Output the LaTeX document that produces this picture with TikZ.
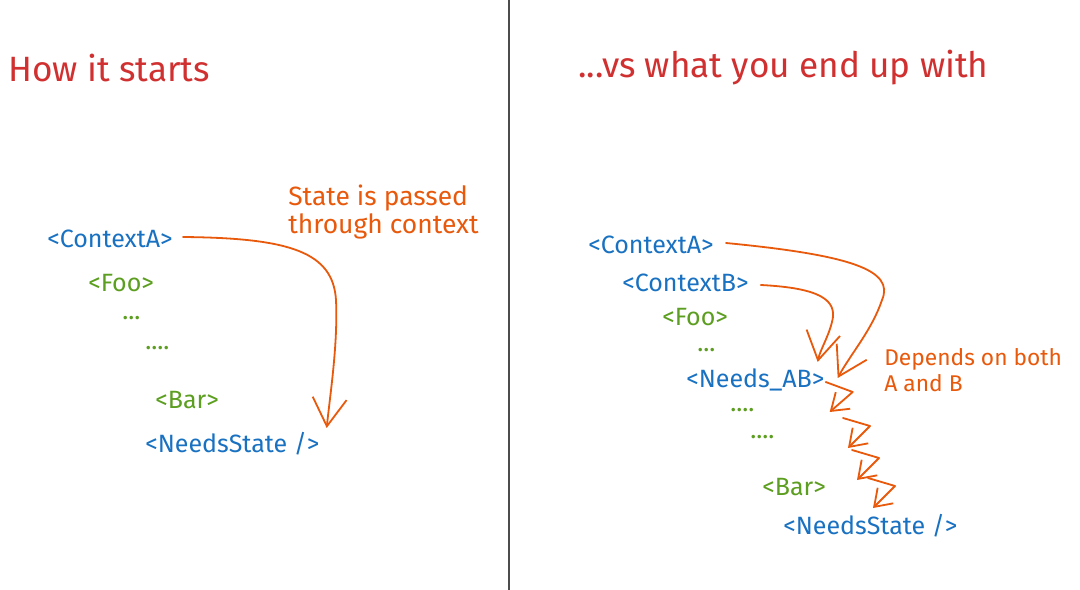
\documentclass[tikz,border=0pt]{standalone}
\usepackage{fontspec}
\setmainfont{Fira Sans}
\usetikzlibrary{positioning, arrows.meta}

\definecolor{titlered}{HTML}{D0302F}
\definecolor{arrorange}{HTML}{E8590C}
\definecolor{tagblue}{HTML}{1971C2}
\definecolor{taggreen}{HTML}{5C9E1F}

\tikzset{
  title/.style={anchor=west, inner sep=0pt, text=titlered, font=\fontsize{25}{30}\selectfont},
  ctxtag/.style={anchor=west, inner sep=0pt, text=tagblue, font=\fontsize{17.8}{21}\selectfont},
  kidtag/.style={anchor=west, inner sep=0pt, text=taggreen, font=\fontsize{17.8}{21}\selectfont},
  note/.style={anchor=west, inner sep=0pt, align=left, text=arrorange, font=\fontsize{18.8}{20.5}\selectfont},
  flow/.style={draw=arrorange, line width=0.45mm, line cap=round, line join=round,
    -{Straight Barb[length=7mm, width=8.5mm]}},
  zig/.style={flow, -{Straight Barb[length=4mm, width=5.5mm]}},
}

\begin{document}
\begin{tikzpicture}[x=0.025cm, y=-0.025cm]
  \useasboundingbox (0,0) rectangle (1080,590);
  \fill[white] (0,0) rectangle (1080,590);
  % divider
  \draw[gray!60!black, line width=0.45mm] (509,0) -- (509,590);

  % left side
  \node[title] (titleL) at (8,68) {How it starts};
  \node[ctxtag] (ctxL) at (47,239) {<ContextA>};
  \node[kidtag] (fooL) at (88,283) {<Foo>};
  \node[kidtag] (dotL1) at (122,318) {...};
  \node[kidtag] (dotL2) at (145,348) {....};
  \node[kidtag] (barL) at (155,400) {<Bar>};
  \node[ctxtag] (nsL) at (145,444) {<NeedsState />};
  \node[note] (passL) at (288,212) {State is passed\\through context};

  \draw[flow] ([shift={(10,-2)}]ctxL.east) .. controls (290,238) and (333,252) .. (336,300)
    .. controls (338,345) and (330,395) .. ([shift={(7,-16)}]nsL.east);

  % right side
  \node[title] (titleR) at (578,68) {...vs what you end up with};
  \node[ctxtag] (ctxA) at (588,245) {<ContextA>};
  \node[ctxtag] (ctxB) at (622,283) {<ContextB>};
  \node[kidtag] (fooR) at (662,317) {<Foo>};
  \node[kidtag] (dotR1) at (697,350) {...};
  \node[ctxtag] (needsAB) at (686,380) {<Needs\_AB>};
  \node[kidtag] (dotR2) at (730,410) {....};
  \node[kidtag] (dotR3) at (750,437) {....};
  \node[kidtag] (barR) at (762,487) {<Bar>};
  \node[ctxtag] (nsR) at (783,526) {<NeedsState />};
  \node[note, font=\fontsize{16.2}{18.5}\selectfont] (bothR) at (884,370) {Depends on both\\A and B};

  \draw[flow] ([shift={(12,-2)}]ctxA.east) .. controls (850,255) and (895,270) .. (882,300)
    .. controls (872,330) and (850,355) .. ([shift={(13,-2)}]needsAB.east);
  \draw[flow] ([shift={(12,2)}]ctxB.east) .. controls (820,288) and (838,300) .. (832,322)
    .. controls (828,338) and (820,350) .. ([shift={(-7,-18)}]needsAB.east);

  % state trickling down
  \draw[zig] ([shift={(1,2)}]needsAB.east) -- ++(27,10) -- ++(-23,20);
  \foreach \sx/\sy in {843/418, 852/450, 868/478} {
    \draw[zig] (\sx,\sy) -- ++(27,8) -- ++(-22,22);
  }
\end{tikzpicture}
\end{document}
